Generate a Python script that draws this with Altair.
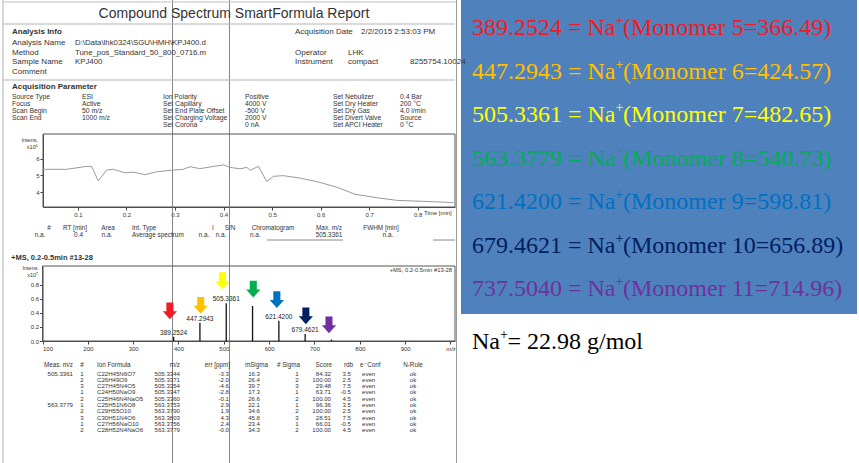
import altair as alt
import pandas as pd

# ---------------- data ----------------
# total ion chromatogram (intensity x10^6 vs time, min)
chrom_time = [0.028, 0.076, 0.118, 0.128, 0.142, 0.159, 0.173, 0.197, 0.214, 0.238,
              0.262, 0.297, 0.317, 0.331, 0.351, 0.376, 0.400, 0.413, 0.434, 0.448,
              0.455, 0.472, 0.489, 0.503, 0.523, 0.558, 0.592, 0.633, 0.671, 0.716,
              0.757, 0.812, 0.874]
chrom_int = [5.37, 5.37, 5.55, 5.55, 4.67, 5.33, 5.37, 5.16, 5.20, 5.05,
             5.22, 5.33, 5.37, 5.53, 5.41, 5.53, 5.64, 5.49, 5.40, 5.49,
             5.31, 5.55, 4.63, 4.95, 4.99, 4.84, 4.63, 4.30, 3.87, 3.66,
             3.50, 3.44, 3.37]
chrom_xticks = [0.1, 0.2, 0.3, 0.4, 0.5, 0.6, 0.7, 0.8]
chrom_yticks = [4, 5, 6]

# mass spectrum (intensity x10^7 vs m/z)
peak_mz = [389.2524, 447.2943, 505.3361, 563.3779, 621.4200, 679.4621, 737.5040]
peak_int = [0.06, 0.26, 0.54, 0.50, 0.29, 0.10, 0.02]
peak_label = ["389.2524", "447.2943", "505.3361", "", "621.4200", "679.4621", ""]
arrow_mz = [381, 449, 497, 565, 617, 681, 732]
arrow_int = [0.43, 0.51, 0.86, 0.74, 0.59, 0.36, 0.23]
series_colors = ["#EE1C25", "#FFC000", "#FFFF00", "#00B050", "#0070C0", "#002060", "#7030A0"]
spec_xticks = [100, 200, 300, 400, 500, 600, 700, 800, 900, 1000]
spec_yticks = [0.0, 0.2, 0.4, 0.6, 0.8]

# monomer annotation panel
monomer_n = [5, 6, 7, 8, 9, 10, 11]
monomer_mass = ["366.49", "424.57", "482.65", "540.73", "598.81", "656.89", "714.96"]
monomer_ion = ["389.2524", "447.2943", "505.3361", "563.3779", "621.4200", "679.4621", "737.5040"]
na_mass = "22.98 g/mol"

# report header texts
title = "Compound Spectrum SmartFormula Report"
info_labels = ["Analysis Name", "Method", "Sample Name", "Comment"]
info_values = ["D:\\Data\\lhk0324\\SGU\\HMH\\KPJ400.d", "Tune_pos_Standard_50_800_0716.m", "KPJ400", ""]
acq_date = "2/2/2015 2:53:03 PM"
instr_labels = ["Operator", "Instrument"]
instr_values = ["LHK", "compact"]
serial = "8255754.10024"
par_labels1 = ["Source Type", "Focus", "Scan Begin", "Scan End"]
par_values1 = ["ESI", "Active", "50 m/z", "1000 m/z"]
par_labels2 = ["Ion Polarity", "Set Capillary", "Set End Plate Offset", "Set Charging Voltage", "Set Corona"]
par_values2 = ["Positive", "4000 V", "-500 V", "2000 V", "0 nA"]
par_labels3 = ["Set Nebulizer", "Set Dry Heater", "Set Dry Gas", "Set Divert Valve", "Set APCI Heater"]
par_values3 = ["0.4 Bar", "200 \u00b0C", "4.0 l/min", "Source", "0 \u00b0C"]

chrom_hdr = ["#", "RT [min]", "Area", "Int. Type", "I", "S/N", "Chromatogram", "Max. m/z", "FWHM [min]"]
chrom_row = ["n.a.", "0.4", "n.a.", "Average spectrum", "n.a.", "n.a.", "n.a.", "505.3361", "n.a."]
ms_label = "+MS, 0.2-0.5min #13-28"

tab_hdr = ["Meas. m/z", "#", "Ion Formula", "m/z", "err [ppm]", "mSigma", "# Sigma", "Score", "rdb", "e\u207b Conf", "N-Rule"]
tab_meas = ["505.3361", "", "", "", "", "563.3779", "", "", "", ""]
tab_rank = ["1", "2", "3", "1", "2", "1", "2", "3", "1", "2"]
tab_formula = ["C22H45N6O7", "C26H49O9", "C27H45N4O5", "C24H50NaO9", "C25H46N4NaO5",
               "C25H51N6O8", "C29H55O10", "C30H51N4O6", "C27H56NaO10", "C28H52N4NaO6"]
tab_mz = ["505.3344", "505.3371", "505.3354", "505.3347", "505.3360",
          "563.3753", "563.3790", "563.3803", "563.3756", "563.3779"]
tab_err = ["-3.3", "-2.0", "-4.6", "-2.8", "-0.1", "2.9", "1.9", "4.3", "2.4", "-0.0"]
tab_msigma = ["16.3", "26.4", "39.7", "17.3", "26.6", "22.1", "34.6", "45.8", "23.4", "34.3"]
tab_nsigma = ["1", "2", "3", "1", "2", "1", "2", "3", "1", "2"]
tab_score = ["84.32", "100.00", "29.48", "63.71", "100.00", "96.36", "100.00", "28.51", "66.01", "100.00"]
tab_rdb = ["3.5", "2.5", "7.5", "-0.5", "4.5", "3.5", "2.5", "7.5", "-0.5", "4.5"]
tab_econf = ["even", "even", "even", "even", "even", "even", "even", "even", "even", "even"]
tab_nrule = ["ok", "ok", "ok", "ok", "ok", "ok", "ok", "ok", "ok", "ok"]

# ---------------- layout (pixels) ----------------
W, H = 859, 463
SANS = "Liberation Sans, Arial, sans-serif"
SERIF = "'Liberation Serif', 'Times New Roman', serif"
INK = "#333333"
CH_L, CH_R, CH_T, CH_B = 43, 455, 134, 207
SP_L, SP_R, SP_T, SP_B = 42.5, 455, 266, 341
ARROW = "M-0.42,-1L0.42,-1L0.42,0.05L0.85,0.05L0,1L-0.85,0.05L-0.42,0.05Z"
BIG = 24            # font size of the right-hand annotations
TX = 472            # left edge of the right-hand annotations
EM_ION = 5.98       # width (em, Times metrics) of "nnn.nnnn = Na"
EM_NA = 1.166       # width (em) of "Na"

# ---------------- helpers ----------------
items = []


def add(text, x, y, size, align="left", weight="normal"):
    items.append(dict(text=text, x=x, y=y, size=size, align=align, weight=weight))


def text_layer(df, align, weight, font=SANS, color=INK):
    return alt.Chart(df).mark_text(align=align, baseline="middle", fontWeight=weight,
                                   font=font, color=color).encode(
        x=alt.X("x:Q", scale=None, axis=None),
        y=alt.Y("y:Q", scale=None, axis=None),
        text=alt.Text("text:N"),
        size=alt.Size("size:Q", scale=None, legend=None),
    )


# header
add(title, 234, 14, 14, "center")
add("Analysis Info", 12, 32, 8, weight="bold")
add("Acquisition Date", 295, 32, 8)
add(acq_date, 361, 32, 8)
for i, (lab, val) in enumerate(zip(info_labels, info_values)):
    add(lab, 12, 43 + 9.5 * i, 8)
    add(val, 75, 43 + 9.5 * i, 7.8)
for i, (lab, val) in enumerate(zip(instr_labels, instr_values)):
    add(lab, 295, 52.5 + 9.5 * i, 8)
    add(val, 348, 52.5 + 9.5 * i, 8)
add(serial, 410, 62, 8)
add("Acquisition Parameter", 12, 87, 8, weight="bold")
for col, cx in [(par_labels1, 12), (par_values1, 82), (par_labels2, 163),
                (par_values2, 245), (par_labels3, 333), (par_values3, 400)]:
    for i, t in enumerate(col):
        add(t, cx, 96.5 + 7 * i, 6.8)

# chromatogram annotations
add("Intens.", 38, 140, 5.5, "right")
add("x10\u2076", 38, 147, 5.5, "right")
add("Time [min]", 424, 212.5, 6)

# chromatogram info table
hdr_pos = [(49, "center"), (75, "center"), (108, "center"), (132, "left"), (213, "center"),
           (230, "center"), (273, "center"), (329, "center"), (381, "center")]
row_pos = [(40, "center"), (83, "right"), (107, "center"), (132, "left"), (204, "center"),
           (221, "center"), (250, "left"), (329, "center"), (388, "center")]
for t, (cx, al) in zip(chrom_hdr, hdr_pos):
    add(t, cx, 228, 6.4, al)
for t, (cx, al) in zip(chrom_row, row_pos):
    add(t, cx, 235, 6.4, al)
add(ms_label, 11, 258, 7.5, weight="bold")

# spectrum annotations
add(ms_label, 452, 270, 5.8, "right")
add("Intens.", 39, 268, 5.5, "right")
add("x10\u2077", 38, 275, 5.5, "right")

# formula table
tab_hdr_pos = [(73, "right"), (82, "center"), (97, "left"), (180, "right"), (230, "right"),
               (268, "right"), (300, "right"), (332, "right"), (353, "right"), (360, "left"), (413, "center")]
tab_col_pos = [(73, "right"), (82, "center"), (97, "left"), (180, "right"), (229, "right"),
               (260, "right"), (297, "center"), (331, "right"), (351, "right"), (362, "left"), (413, "center")]
for t, (cx, al) in zip(tab_hdr, tab_hdr_pos):
    add(t, cx, 365, 6.3, al)
tab_cols = [tab_meas, tab_rank, tab_formula, tab_mz, tab_err, tab_msigma,
            tab_nsigma, tab_score, tab_rdb, tab_econf, tab_nrule]
for col, (cx, al) in zip(tab_cols, tab_col_pos):
    for i, t in enumerate(col):
        add(t, cx, 373.5 + 6.3 * i, 6.1, al)

items_df = pd.DataFrame(items)

# ---------------- layers ----------------
layers = []

# right blue panel
panel_df = pd.DataFrame({"x": [461], "x2": [857], "y": [0], "y2": [314]})
layers.append(alt.Chart(panel_df).mark_rect(color="#4F81BD").encode(
    x=alt.X("x:Q", scale=None, axis=None), x2="x2:Q",
    y=alt.Y("y:Q", scale=None, axis=None), y2="y2:Q"))

# page lines (borders, separators, scan streaks)
lines_df = pd.DataFrame([
    dict(x=3, x2=3, y=0, y2=463, c="#b0b0b0", w=1),
    dict(x=456.5, x2=456.5, y=0, y2=463, c="#9a9a9a", w=1),
    dict(x=172.5, x2=172.5, y=0, y2=463, c="#858585", w=1),
    dict(x=229.5, x2=229.5, y=0, y2=463, c="#858585", w=1),
    dict(x=3, x2=456, y=2, y2=2, c="#c0c0c0", w=1),
    dict(x=3, x2=455, y=24, y2=24, c="#b5b5b5", w=1),
    dict(x=3, x2=455, y=80, y2=80, c="#b5b5b5", w=1),
    dict(x=267, x2=343, y=240, y2=240, c="#8a8a8a", w=1),
    dict(x=433, x2=455, y=240, y2=240, c="#8a8a8a", w=1),
])
layers.append(alt.Chart(lines_df).mark_rule().encode(
    x=alt.X("x:Q", scale=None, axis=None), x2="x2:Q",
    y=alt.Y("y:Q", scale=None, axis=None), y2="y2:Q",
    color=alt.Color("c:N", scale=None),
    strokeWidth=alt.StrokeWidth("w:Q", scale=None, legend=None)))

# plot frames
frames_df = pd.DataFrame({"x": [CH_L, SP_L], "x2": [CH_R, SP_R], "y": [CH_T, SP_T], "y2": [CH_B, SP_B]})
layers.append(alt.Chart(frames_df).mark_rect(fillOpacity=0, stroke="#555555", strokeWidth=1).encode(
    x=alt.X("x:Q", scale=None, axis=None), x2="x2:Q",
    y=alt.Y("y:Q", scale=None, axis=None), y2="y2:Q"))

axis_style = dict(labelFont=SANS, labelFontSize=6, labelColor=INK, tickColor="#444444",
                  domainColor="#444444", tickSize=3, labelPadding=1, grid=False, title=None)

# chromatogram
ch_x = alt.Scale(domain=[0.028, 0.877], range=[CH_L, CH_R], nice=False, zero=False)
ch_y = alt.Scale(domain=[3.1, 7.5], range=[CH_B, CH_T], nice=False, zero=False)
chrom_df = pd.DataFrame({"t": chrom_time, "i": chrom_int})
layers.append(alt.Chart(chrom_df).mark_line(color="#9a9a9a", strokeWidth=1).encode(
    x=alt.X("t:Q", scale=ch_x, axis=alt.Axis(orient="bottom", offset=CH_B - H, values=chrom_xticks,
                                              format=".1f", **axis_style)),
    y=alt.Y("i:Q", scale=ch_y, axis=alt.Axis(orient="left", offset=-CH_L, values=chrom_yticks,
                                              format="d", **axis_style))))

# spectrum
sp_x = alt.Scale(domain=[100, 1010], range=[SP_L, SP_R], nice=False, zero=False)
sp_y = alt.Scale(domain=[0, 1.07], range=[SP_B, SP_T], nice=False, zero=False)
peak_df = pd.DataFrame({"mz": peak_mz, "inten": peak_int, "base": [0.0] * len(peak_mz), "label": peak_label})
layers.append(alt.Chart(peak_df).mark_rule(color="#111111", strokeWidth=1.3).encode(
    x=alt.X("mz:Q", scale=sp_x, axis=alt.Axis(orient="bottom", offset=SP_B - H, values=spec_xticks,
                                               labelExpr="datum.value == 1000 ? 'm/z' : datum.label",
                                               **axis_style)),
    y=alt.Y("inten:Q", scale=sp_y, axis=alt.Axis(orient="left", offset=-SP_L, values=spec_yticks,
                                                  format=".1f", **axis_style)),
    y2="base:Q"))
layers.append(alt.Chart(peak_df).mark_text(baseline="bottom", dy=-1, font=SANS, fontSize=6.5, color="#222222").encode(
    x=alt.X("mz:Q", scale=sp_x, axis=None),
    y=alt.Y("inten:Q", scale=sp_y, axis=None),
    text="label:N"))
arrow_df = pd.DataFrame({"mz": arrow_mz, "inten": arrow_int, "c": series_colors})
layers.append(alt.Chart(arrow_df).mark_point(shape=ARROW, filled=True, size=280, opacity=1, strokeWidth=0).encode(
    x=alt.X("mz:Q", scale=sp_x, axis=None),
    y=alt.Y("inten:Q", scale=sp_y, axis=None),
    color=alt.Color("c:N", scale=None)))

# report texts
for (al, wt), grp in items_df.groupby(["align", "weight"]):
    layers.append(text_layer(grp.reset_index(drop=True), al, wt))

# monomer annotation texts: "<ion> = Na" + superscript "+" + "(Monomer n=mass)"
ion_x = TX + EM_ION * BIG
rows = []
for i, (ion, n, m, c) in enumerate(zip(monomer_ion, monomer_n, monomer_mass, series_colors)):
    y = 28 + 43.5 * i
    rows.append(dict(text=f"{ion} = Na", x=TX, y=y, s=BIG, c=c))
    rows.append(dict(text="+", x=ion_x, y=y - 7, s=14, c=c))
    rows.append(dict(text=f"(Monomer {n}={m})", x=ion_x + 7.5, y=y, s=BIG, c=c))
na_x = TX + EM_NA * BIG
rows.append(dict(text="Na", x=TX, y=342, s=BIG, c="#000000"))
rows.append(dict(text="+", x=na_x, y=335, s=14, c="#000000"))
rows.append(dict(text=f"= {na_mass}", x=na_x + 7.5, y=342, s=BIG, c="#000000"))
mono_df = pd.DataFrame(rows)
layers.append(alt.Chart(mono_df).mark_text(align="left", baseline="middle", font=SERIF).encode(
    x=alt.X("x:Q", scale=None, axis=None),
    y=alt.Y("y:Q", scale=None, axis=None),
    text="text:N",
    size=alt.Size("s:Q", scale=None, legend=None),
    color=alt.Color("c:N", scale=None)))

chart = alt.layer(*layers).resolve_scale(
    x="independent", y="independent"
).resolve_axis(
    x="independent", y="independent"
).properties(
    width=W, height=H, padding=0, background="white",
    autosize=alt.AutoSizeParams(type="none"),
).configure_view(stroke=None)

chart.save("out.html", embed_options={"renderer": "svg", "actions": False})
